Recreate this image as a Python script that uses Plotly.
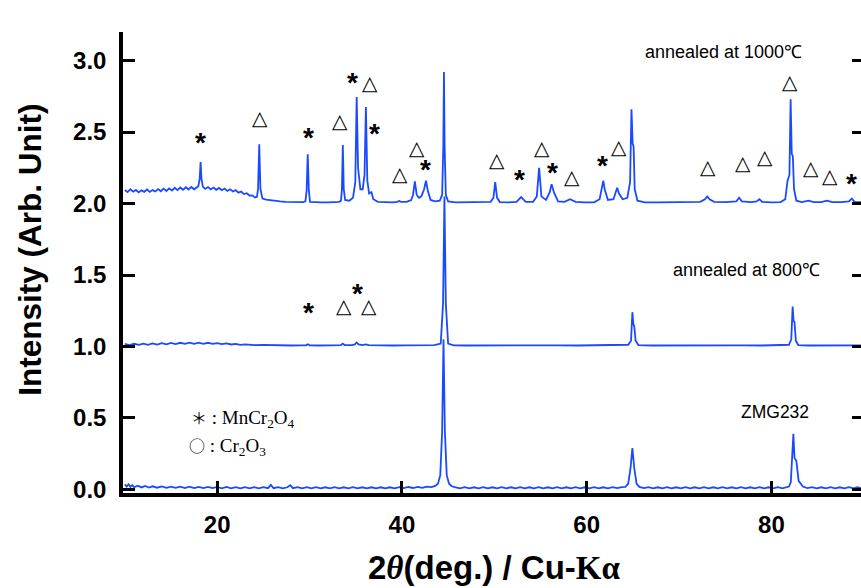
import plotly.graph_objects as go

# ---------------- data ----------------
x1000 = [10.0, 10.3, 10.6, 10.9, 11.2, 11.5, 11.8, 12.1, 12.4, 12.7, 13.0, 13.3, 13.6, 13.9, 14.2, 14.5, 14.8,
         15.1, 15.4, 15.7, 16.0, 16.3, 16.6, 16.9, 17.2, 17.5, 17.8, 17.95, 18.1, 18.2, 18.3, 18.45, 18.7,
         19.0, 19.3, 19.6, 19.9, 20.2, 20.5, 20.8, 21.1, 21.4, 21.7, 22.0, 22.3, 22.6, 22.9, 23.2, 23.5,
         23.8, 24.1, 24.3, 24.42, 24.55, 24.68, 24.9, 25.3, 25.8, 26.3, 26.8, 27.4, 28.0, 28.6, 29.3,
         29.55, 29.68, 29.8, 29.92, 30.05, 30.6, 31.3, 32.0, 32.7, 33.2, 33.4, 33.5, 33.6, 33.7, 33.85,
         34.3, 34.7, 34.95, 35.1, 35.25, 35.5, 35.75, 35.95, 36.1, 36.25, 36.45, 36.7, 36.9, 37.4, 38.2,
         39.0, 39.5, 39.7, 39.9, 40.5, 41.0, 41.2, 41.4, 41.6, 41.85, 42.1, 42.4, 42.6, 42.8, 43.1, 43.6,
         44.1, 44.35, 44.48, 44.55, 44.62, 44.75, 45.0, 45.8, 46.8, 47.8, 48.8, 49.6, 49.9, 50.1, 50.3,
         50.6, 51.5, 52.4, 52.9, 53.4, 54.2, 54.6, 54.85, 55.1, 55.6, 56.0, 56.2, 56.45, 56.9, 57.6, 58.2,
         58.8, 59.8, 60.8, 61.4, 61.65, 61.8, 61.95, 62.3, 62.9, 63.15, 63.3, 63.5, 63.9, 64.4, 64.7,
         64.85, 64.98, 65.08, 65.2, 65.5, 66.3, 67.5, 68.7, 69.9, 71.1, 72.3, 72.8, 73.05, 73.3, 73.8,
         75.0, 76.2, 76.5, 76.8, 77.8, 78.4, 78.7, 79.0, 80.0, 81.0, 81.5, 81.75, 81.95, 82.08, 82.2,
         82.32, 82.45, 82.7, 83.3, 84.0, 84.6, 85.4, 86.0, 86.6, 87.5, 88.4, 88.7, 89.0, 89.7]
y1000 = [2.095, 2.080, 2.100, 2.083, 2.095, 2.078, 2.092, 2.082, 2.098, 2.081, 2.094, 2.084, 2.101, 2.086,
         2.104, 2.088, 2.106, 2.091, 2.110, 2.094, 2.112, 2.096, 2.114, 2.098, 2.116, 2.100, 2.114, 2.120,
         2.17, 2.29, 2.17, 2.117, 2.102, 2.115, 2.099, 2.112, 2.096, 2.109, 2.093, 2.105, 2.088, 2.100,
         2.084, 2.094, 2.076, 2.084, 2.066, 2.072, 2.056, 2.057, 2.043, 2.047, 2.10, 2.415, 2.10, 2.035,
         2.028, 2.022, 2.018, 2.015, 2.012, 2.010, 2.010, 2.010, 2.015, 2.09, 2.345, 2.09, 2.012, 2.008,
         2.008, 2.008, 2.008, 2.012, 2.02, 2.10, 2.41, 2.10, 2.025, 2.02, 2.04, 2.15, 2.745, 2.25, 2.10,
         2.10, 2.20, 2.675, 2.16, 2.07, 2.08, 2.03, 2.012, 2.008, 2.008, 2.012, 2.018, 2.012, 2.012, 2.025,
         2.06, 2.155, 2.06, 2.04, 2.05, 2.10, 2.16, 2.09, 2.025, 2.015, 2.02, 2.06, 2.40, 2.92, 2.40, 2.06,
         2.015, 2.008, 2.008, 2.008, 2.008, 2.012, 2.04, 2.15, 2.04, 2.01, 2.008, 2.012, 2.045, 2.012,
         2.012, 2.05, 2.25, 2.05, 2.025, 2.08, 2.135, 2.08, 2.015, 2.012, 2.03, 2.012, 2.008, 2.008, 2.03,
         2.10, 2.16, 2.10, 2.025, 2.03, 2.08, 2.11, 2.07, 2.03, 2.04, 2.15, 2.66, 2.42, 2.40, 2.10, 2.02,
         2.008, 2.008, 2.008, 2.008, 2.008, 2.012, 2.03, 2.05, 2.03, 2.012, 2.010, 2.015, 2.04, 2.015,
         2.010, 2.015, 2.03, 2.012, 2.008, 2.010, 2.03, 2.16, 2.20, 2.73, 2.35, 2.33, 2.10, 2.02, 2.010,
         2.02, 2.010, 2.010, 2.02, 2.010, 2.010, 2.015, 2.035, 2.012, 2.010]

x800 = [10.0, 10.5, 11.0, 11.5, 12.0, 12.5, 13.0, 13.5, 14.0, 14.5, 15.0, 15.5, 16.0, 16.5, 17.0, 17.5,
        18.0, 18.5, 19.0, 19.5, 20.0, 20.5, 21.0, 21.5, 22.0, 22.5, 23.0, 24.0, 25.0, 26.0, 27.0, 28.0,
        29.0, 29.6, 29.8, 30.0, 31.0, 32.0, 33.0, 33.4, 33.6, 33.8, 34.6, 34.9, 35.1, 35.3, 35.7, 36.1,
        36.4, 37.5, 39.0, 40.5, 42.0, 43.5, 44.2, 44.45, 44.6, 44.75, 45.0, 45.6, 47.0, 49.0, 51.0, 53.0,
        55.0, 57.0, 59.0, 61.0, 63.0, 64.5, 64.8, 64.95, 65.05, 65.15, 65.3, 65.6, 67.0, 69.0, 71.0, 73.0,
        75.0, 77.0, 79.0, 81.0, 81.9, 82.15, 82.3, 82.4, 82.5, 82.65, 82.9, 84.0, 86.0, 88.0, 89.7]
y800 = [1.018, 1.010, 1.019, 1.011, 1.020, 1.012, 1.021, 1.013, 1.023, 1.015, 1.025, 1.017, 1.026, 1.018,
        1.027, 1.019, 1.027, 1.019, 1.026, 1.018, 1.024, 1.016, 1.021, 1.014, 1.018, 1.011, 1.015, 1.010,
        1.011, 1.008, 1.009, 1.007, 1.008, 1.008, 1.016, 1.008, 1.007, 1.008, 1.008, 1.010, 1.020, 1.010,
        1.010, 1.014, 1.028, 1.014, 1.010, 1.014, 1.009, 1.007, 1.007, 1.008, 1.008, 1.010, 1.02, 1.30,
        2.05, 1.30, 1.02, 1.008, 1.007, 1.008, 1.007, 1.008, 1.007, 1.008, 1.007, 1.008, 1.008, 1.012,
        1.04, 1.24, 1.16, 1.14, 1.04, 1.010, 1.007, 1.008, 1.007, 1.008, 1.007, 1.008, 1.007, 1.008, 1.012,
        1.05, 1.28, 1.18, 1.17, 1.04, 1.010, 1.007, 1.008, 1.007, 1.008]

xzmg = [10.0, 10.2, 10.4, 10.6, 10.8, 11.0, 11.4, 11.8, 12.2, 12.6, 13.0, 13.5, 14.0, 14.5, 15.0, 15.5,
        16.0, 16.5, 17.0, 17.5, 18.0, 18.5, 19.0, 19.5, 20.0, 20.5, 21.0, 21.5, 22.0, 22.5, 23.0, 23.5,
        24.0, 24.5, 25.0, 25.5, 25.8, 26.1, 26.6, 27.1, 27.6, 27.9, 28.2, 28.7, 29.2, 29.7, 30.2, 30.7,
        31.2, 31.7, 32.2, 32.7, 33.2, 33.7, 34.2, 34.7, 35.2, 35.7, 36.2, 36.7, 37.2, 37.7, 38.2, 38.7,
        39.2, 39.7, 40.2, 40.7, 41.2, 41.7, 42.2, 42.7, 43.2, 43.6, 43.9, 44.15, 44.35, 44.5, 44.65, 44.85,
        45.1, 45.4, 45.8, 46.3, 46.8, 47.3, 47.8, 48.3, 48.8, 49.3, 49.8, 50.3, 50.8, 51.3, 51.8, 52.3,
        52.8, 53.3, 53.8, 54.3, 54.8, 55.3, 55.8, 56.3, 56.8, 57.3, 57.8, 58.3, 58.8, 59.3, 59.8, 60.3,
        60.8, 61.3, 61.8, 62.3, 62.8, 63.3, 63.8, 64.2, 64.5, 64.75, 64.95, 65.15, 65.4, 65.7, 66.2, 66.7,
        67.2, 67.7, 68.2, 68.7, 69.2, 69.7, 70.2, 70.7, 71.2, 71.7, 72.2, 72.7, 73.2, 73.7, 74.2, 74.7,
        75.2, 75.7, 76.2, 76.7, 77.2, 77.7, 78.2, 78.7, 79.2, 79.7, 80.2, 80.7, 81.2, 81.6, 81.9, 82.1,
        82.25, 82.38, 82.5, 82.7, 82.95, 83.4, 83.9, 84.4, 84.9, 85.4, 85.9, 86.4, 86.9, 87.4, 87.9, 88.4,
        88.9, 89.3, 89.7]
yzmg = [0.035, 0.020, 0.036, 0.018, 0.030, 0.016, 0.026, 0.014, 0.024, 0.013, 0.022, 0.012, 0.021, 0.011,
        0.020, 0.011, 0.019, 0.010, 0.019, 0.010, 0.018, 0.009, 0.018, 0.009, 0.017, 0.008, 0.017, 0.008,
        0.016, 0.008, 0.016, 0.008, 0.016, 0.008, 0.016, 0.009, 0.032, 0.009, 0.016, 0.008, 0.015, 0.030,
        0.009, 0.016, 0.008, 0.016, 0.008, 0.016, 0.008, 0.015, 0.008, 0.016, 0.008, 0.015, 0.008, 0.016,
        0.008, 0.015, 0.008, 0.015, 0.008, 0.015, 0.008, 0.015, 0.008, 0.016, 0.009, 0.017, 0.010, 0.018,
        0.011, 0.019, 0.016, 0.025, 0.04, 0.10, 0.40, 1.05, 0.40, 0.10, 0.04, 0.022, 0.015, 0.008, 0.016,
        0.008, 0.015, 0.008, 0.016, 0.008, 0.015, 0.008, 0.016, 0.008, 0.015, 0.008, 0.016, 0.008, 0.015,
        0.008, 0.016, 0.008, 0.015, 0.008, 0.016, 0.008, 0.015, 0.008, 0.016, 0.008, 0.015, 0.008, 0.016,
        0.008, 0.015, 0.008, 0.016, 0.009, 0.016, 0.018, 0.04, 0.15, 0.29, 0.15, 0.04, 0.018, 0.009, 0.016,
        0.008, 0.015, 0.008, 0.016, 0.008, 0.015, 0.008, 0.016, 0.008, 0.015, 0.008, 0.016, 0.008, 0.015,
        0.008, 0.016, 0.008, 0.015, 0.008, 0.016, 0.008, 0.015, 0.008, 0.016, 0.008, 0.015, 0.008, 0.016,
        0.008, 0.015, 0.02, 0.05, 0.20, 0.39, 0.22, 0.20, 0.06, 0.02, 0.009, 0.016, 0.008, 0.015, 0.008,
        0.016, 0.008, 0.015, 0.008, 0.016, 0.008, 0.015, 0.008, 0.014, 0.009]

# phase markers: * = MnCr2O4, triangle = Cr2O3
star_x = [18.14, 29.83, 34.70, 37.08, 42.60, 52.78, 56.35, 61.66, 88.72, 29.83, 35.14]
star_y = [2.459, 2.494, 2.879, 2.522, 2.270, 2.200, 2.249, 2.298, 2.172, 1.275, 1.408]
tri_x = [24.66, 33.29, 36.54, 41.66, 39.79, 50.26, 55.19, 58.41, 63.53, 73.10, 76.89, 79.30, 82.00,
         84.28, 86.34, 33.77, 36.43]
tri_y = [2.601, 2.578, 2.842, 2.387, 2.206, 2.306, 2.387, 2.189, 2.399, 2.259, 2.283, 2.324, 2.853,
         2.252, 2.194, 1.285, 1.285]

labels = ["annealed at 1000℃", "annealed at 800℃", "ZMG232"]
label_x = [74.86, 77.25, 80.4]
label_y = [3.06, 1.536, 0.542]
label_size = [18, 18, 17.5]

legend_sym = ["＊", "○"]
legend_txt = [" : MnCr<sub>2</sub>O<sub>4</sub>", " : Cr<sub>2</sub>O<sub>3</sub>"]
legend_x = [16.9, 16.7]
legend_y = [0.50, 0.306]

yticks = [0.0, 0.5, 1.0, 1.5, 2.0, 2.5, 3.0]
yticktext = ["0.0", "0.5", "1.0", "1.5", "2.0", "2.5", "3.0"]
xticks = [20, 40, 60, 80]

XR = [9.8, 89.7]
YR = [-0.025, 3.2]
BLUE = "#1a4aff"

fig = go.Figure()
for xs, ys in [(xzmg, yzmg), (x800, y800), (x1000, y1000)]:
    fig.add_trace(go.Scatter(x=xs, y=ys, mode="lines", line=dict(color=BLUE, width=1.8),
                             showlegend=False, hoverinfo="skip"))
# dummy trace for right-side mirrored ticks
fig.add_trace(go.Scatter(x=[None], y=[None], yaxis="y2", showlegend=False))

ann = []
for x, y in zip(star_x, star_y):
    ann.append(dict(x=x, y=y, xref="x", yref="y", text="*", showarrow=False, yshift=-5,
                    font=dict(family="Liberation Sans, Arial", size=28, color="black", weight="bold")))
for x, y in zip(tri_x, tri_y):
    ann.append(dict(x=x, y=y, xref="x", yref="y", text="△", showarrow=False,
                    font=dict(family="DejaVu Sans", size=20, color="black")))
for t, x, y, s in zip(labels, label_x, label_y, label_size):
    ann.append(dict(x=x, y=y, xref="x", yref="y", text=t, showarrow=False,
                    font=dict(family="Liberation Sans, Arial", size=s, color="black")))
for s, t, x, y in zip(legend_sym, legend_txt, legend_x, legend_y):
    ann.append(dict(x=x, y=y, xref="x", yref="y",
                    text="<span style='font-family:Noto Sans CJK JP;font-size:16px'>" + s + "</span>" + t,
                    showarrow=False, xanchor="left",
                    font=dict(family="Liberation Serif, Times New Roman", size=19, color="black")))
# axis titles
ann.append(dict(x=-0.126, y=0.5275, xref="paper", yref="paper", text="Intensity (Arb. Unit)",
                textangle=-90, showarrow=False, xanchor="center", yanchor="middle",
                font=dict(family="Liberation Sans, Arial", size=31.5, color="black", weight="bold")))
ann.append(dict(x=0.503, y=-0.162, xref="paper", yref="paper", xanchor="center", yanchor="middle",
                text="2<i><span style='font-family:Liberation Serif'>θ</span></i>(deg.) / Cu-"
                     "<span style='font-family:Liberation Serif'>Kα</span>",
                showarrow=False,
                font=dict(family="Liberation Sans, Arial", size=33, color="black", weight="bold")))

fig.update_layout(
    width=861, height=588,
    margin=dict(l=123, r=0, t=32, b=95),
    paper_bgcolor="white", plot_bgcolor="white",
    xaxis=dict(range=XR, tickvals=xticks, ticks="inside", ticklen=12, tickwidth=3, tickcolor="black",
               showline=True, linewidth=3.5, linecolor="black", showgrid=False, zeroline=False,
               automargin=False,
               tickfont=dict(family="Liberation Sans, Arial", size=24, color="black", weight="bold"),
               ticklabelstandoff=7),
    yaxis=dict(range=YR, tickvals=yticks, ticktext=yticktext, ticks="inside", ticklen=12, tickwidth=3,
               tickcolor="black", showline=True, linewidth=3.5, linecolor="black", showgrid=False,
               zeroline=False, automargin=False,
               tickfont=dict(family="Liberation Sans, Arial", size=24, color="black", weight="bold"),
               ticklabelstandoff=8),
    yaxis2=dict(range=YR, overlaying="y", side="right", anchor="x", tickvals=yticks, ticks="inside",
                ticklen=9, tickwidth=3, tickcolor="black", showticklabels=False, showline=False,
                showgrid=False, zeroline=False, automargin=False),
    annotations=ann,
)
fig.write_html("out.html", config={"displayModeBar": False},
               post_script="document.body.style.margin='0px';")
